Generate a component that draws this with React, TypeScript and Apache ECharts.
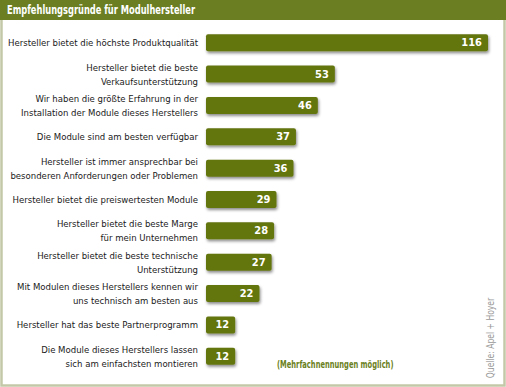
import React, { useEffect, useRef } from "react";
import * as echarts from "echarts";

const categories: string[] = [
  "Hersteller bietet die höchste Produktqualität",
  "Hersteller bietet die beste\nVerkaufsunterstützung",
  "Wir haben die größte Erfahrung in der\nInstallation der Module dieses Herstellers",
  "Die Module sind am besten verfügbar",
  "Hersteller ist immer ansprechbar bei\nbesonderen Anforderungen oder Problemen",
  "Hersteller bietet die preiswertesten Module",
  "Hersteller bietet die beste Marge\nfür mein Unternehmen",
  "Hersteller bietet die beste technische\nUnterstützung",
  "Mit Modulen dieses Herstellers kennen wir\nuns technisch am besten aus",
  "Hersteller hat das beste Partnerprogramm",
  "Die Module dieses Herstellers lassen\nsich am einfachsten montieren",
];
const values: number[] = [116, 53, 46, 37, 36, 29, 28, 27, 22, 12, 12];
const title = "Empfehlungsgründe für Modulhersteller";
const note = "(Mehrfachnennungen möglich)";
const source = "Quelle: Apel + Hoyer";

const FONT = '"DejaVu Sans Condensed", "Roboto", sans-serif';
const BAR = "#637411";
const HEAD = "#6b7f22";

export default function App() {
  const ref = useRef<HTMLDivElement>(null);
  useEffect(() => {
    if (!ref.current) return;
    const chart = echarts.init(ref.current, undefined, { renderer: "svg" });
    chart.setOption({
      animation: false,
      backgroundColor: "#ffffff",
      grid: {
        left: 206,
        right: 18,
        top: 27,
        bottom: 15,
        containLabel: false,
        outerBoundsMode: "none",
      },
      xAxis: {
        type: "value",
        min: 0,
        max: 116,
        show: false,
      },
      yAxis: {
        type: "category",
        data: categories,
        inverse: true,
        axisLine: { show: false },
        axisTick: { show: false },
        axisLabel: {
          fontFamily: FONT,
          fontSize: 9.5,
          lineHeight: 14,
          color: "#1a1a1a",
          margin: 8,
          align: "right",
        },
      },
      series: [
        {
          type: "bar",
          data: values,
          barWidth: 17,
          itemStyle: {
            color: BAR,
            borderRadius: 2,
            shadowBlur: 3,
            shadowOffsetY: 2,
            shadowOffsetX: 1,
            shadowColor: "rgba(0,0,0,0.45)",
          },
          label: {
            show: true,
            position: "insideRight",
            color: "#ffffff",
            fontFamily: FONT,
            fontWeight: "bold",
            fontSize: 11,
            distance: 6,
          },
        },
      ],
      graphic: [
        {
          type: "rect",
          shape: { x: 1.5, y: 1.5, width: 503, height: 384 },
          style: { fill: "none", stroke: "#c3c9a8", lineWidth: 2.5 },
          silent: true,
          z: 0,
        },
        {
          type: "rect",
          shape: { x: 0, y: 0, width: 506, height: 20 },
          style: { fill: HEAD },
          silent: true,
        },
        {
          type: "text",
          x: 7,
          y: 10,
          scaleX: 0.71,
          style: {
            text: title,
            fill: "#ffffff",
            font: `bold 13px ${FONT}`,
            verticalAlign: "middle",
          },
        },
        {
          type: "text",
          x: 277,
          y: 364,
          scaleX: 0.68,
          style: {
            text: note,
            fill: HEAD,
            font: `bold 11px ${FONT}`,
            verticalAlign: "middle",
          },
        },
        {
          type: "text",
          x: 490,
          y: 338,
          rotation: Math.PI / 2,
          scaleX: 0.85,
          style: {
            text: source,
            fill: "#9a9a9a",
            font: `10px ${FONT}`,
            align: "center",
            verticalAlign: "middle",
          },
        },
      ],
    });
    return () => chart.dispose();
  }, []);
  return (
    <div
      ref={ref}
      style={{ position: "fixed", left: 0, top: 0, width: 506, height: 387 }}
    />
  );
}
